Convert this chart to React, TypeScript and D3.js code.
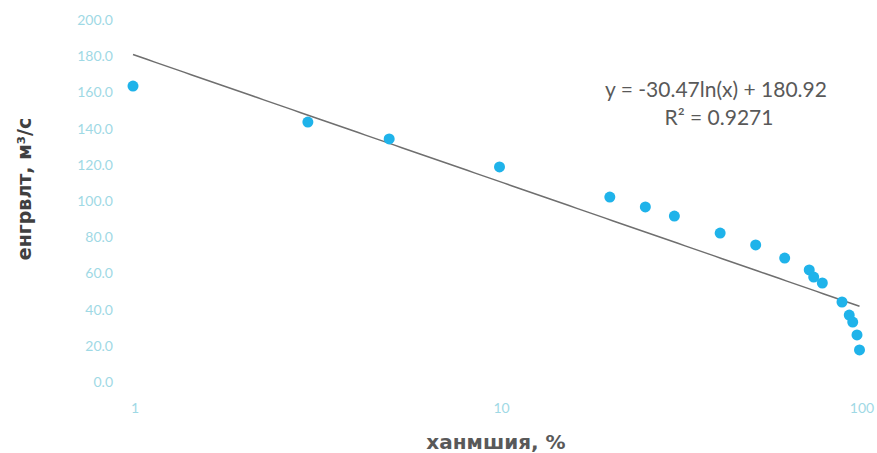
import React from "react";
import * as d3 from "d3";

const probability: number[] = [1, 3, 5, 10, 20, 25, 30, 40, 50, 60, 70, 72, 76, 86, 90, 92, 94.5, 96];
const discharge: number[] = [163.5, 143.6, 134.3, 118.8, 102.2, 96.7, 91.7, 82.3, 75.7, 68.5, 61.9, 58.0, 54.7, 44.2, 37.0, 33.1, 26.0, 17.7];
const yTicks: number[] = [0, 20, 40, 60, 80, 100, 120, 140, 160, 180, 200];
const xTicks: number[] = [1, 10, 100];
const trendA = -30.47;
const trendB = 180.92;
const equationText = "y = -30.47ln(x) + 180.92";
const r2Text = "R² = 0.9271";
const xTitle = "ханмшия, %";
const yTitle = "енгрвлт, м³/с";

const W = 877;
const H = 453;

export default function App() {
  const x = d3.scaleLog().domain([1, 100]).range([133, 866]);
  const y = d3.scaleLinear().domain([0, 200]).range([382, 20]);
  const fmt = d3.format(".1f");

  const xMin = d3.min(probability) as number;
  const xMax = d3.max(probability) as number;
  const trendPts: [number, number][] = d3
    .range(0, 101)
    .map((i) => {
      const xv = Math.exp(Math.log(xMin) + (Math.log(xMax) - Math.log(xMin)) * (i / 100));
      return [xv, trendA * Math.log(xv) + trendB];
    });
  const line = d3
    .line<[number, number]>()
    .x((d) => x(d[0]))
    .y((d) => y(d[1]));

  const tickColor = "#9fd9e5";
  const font = "Lato, 'Open Sans', sans-serif";

  return (
    <svg
      width={W}
      height={H}
      style={{ position: "absolute", left: 0, top: 0, background: "#fff" }}
      fontFamily={font}
    >
      {yTicks.map((t) => (
        <text
          key={"y" + t}
          x={113}
          y={y(t)}
          dy="0.35em"
          textAnchor="end"
          fontSize={14}
          fill={tickColor}
        >
          {fmt(t)}
        </text>
      ))}
      {xTicks.map((t) => (
        <text
          key={"x" + t}
          x={Math.min(x(t) + 2, 862)}
          y={413}
          textAnchor="middle"
          fontSize={14}
          fill={tickColor}
        >
          {t}
        </text>
      ))}
      <path d={line(trendPts) || ""} fill="none" stroke="#6f6f6f" strokeWidth={1.5} />
      {probability.map((p, i) => (
        <circle key={"p" + i} cx={x(p)} cy={y(discharge[i])} r={5.5} fill="#1fb3ea" />
      ))}
      <text x={716} y={97} textAnchor="middle" fontSize={21} fill="#595959">
        {equationText}
      </text>
      <text x={719} y={125} textAnchor="middle" fontSize={21} fill="#595959">
        {r2Text}
      </text>
      <text
        x={496}
        y={449}
        textAnchor="middle"
        fontSize={20}
        fontWeight="bold"
        fill="#595959"
        fontFamily="'DejaVu Sans', sans-serif"
      >
        {xTitle}
      </text>
      <text
        transform={`translate(31,189) rotate(-90)`}
        textAnchor="middle"
        fontSize={19}
        fontWeight="bold"
        fill="#404040"
        fontFamily="'DejaVu Sans', sans-serif"
      >
        {yTitle}
      </text>
    </svg>
  );
}
